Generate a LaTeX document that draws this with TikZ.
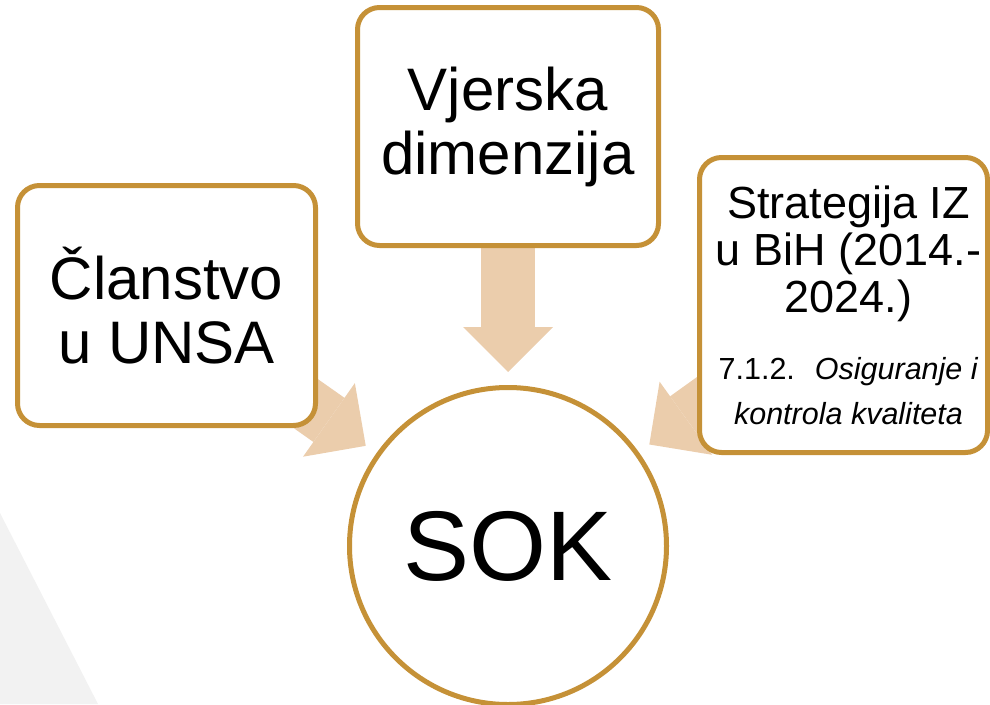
\documentclass[tikz,border=0pt]{standalone}
\usepackage{fontspec}
\setmainfont{Liberation Sans}
\usetikzlibrary{arrows.meta,backgrounds}
\definecolor{zlatna}{RGB}{197,145,55}
\definecolor{breskva}{RGB}{235,205,172}
\definecolor{siva}{RGB}{242,242,242}

\begin{document}
\begin{tikzpicture}[x=1pt,y=-1pt,
    kutija/.style={draw=zlatna, line width=5pt, fill=white, rounded corners=22pt, align=center, inner sep=0pt},
    strelica/.style={breskva, line width=54pt, -{Triangle[width=90pt,length=45pt,line width=0pt]}, shorten >=13pt}]
    % 画布大小
    \useasboundingbox (0,0) rectangle (990,704);

    % 左下角灰色三角形
    \fill[siva] (0,513) -- (98,704) -- (0,704) -- cycle;

    % 中间的圆
    \node[circle, draw=zlatna, line width=5pt, fill=white, minimum size=317pt,
          font=\fontsize{99}{110}\selectfont] (sok) at (508,546) {SOK};

    % 三个方框
    \node[kutija, minimum width=298pt, minimum height=240pt, font=\fontsize{60}{64}\selectfont]
        (clanstvo) at (166.5,305.5) {Članstvo\\u UNSA};
    \node[kutija, minimum width=301pt, minimum height=238pt, font=\fontsize{60}{64}\selectfont]
        (vjerska) at (508,126.5) {Vjerska\\dimenzija};
    \node[kutija, minimum width=288pt, minimum height=295pt, text width=288pt]
        (strategija) at (843.5,305) {\centering\leftskip=10pt plus 1fil\spaceskip=0pt\xspaceskip=0pt
        \fontsize{45}{47}\selectfont Strategija IZ\\u BiH (2014.-\\2024.)\par
        \vspace{22pt}\fontsize{30.5}{45}\selectfont 7.1.2.\hspace{20pt}\textit{Osiguranje i}\\\textit{kontrola kvaliteta}\par};

    % 箭头指向圆
    \begin{scope}[on background layer]
        \draw[strelica] (clanstvo.center) -- (sok); % 左
        \draw[strelica] (vjerska.center) -- (sok); % 上
        \draw[strelica] (strategija.center) -- (sok); % 右
    \end{scope}
\end{tikzpicture}
\end{document}
